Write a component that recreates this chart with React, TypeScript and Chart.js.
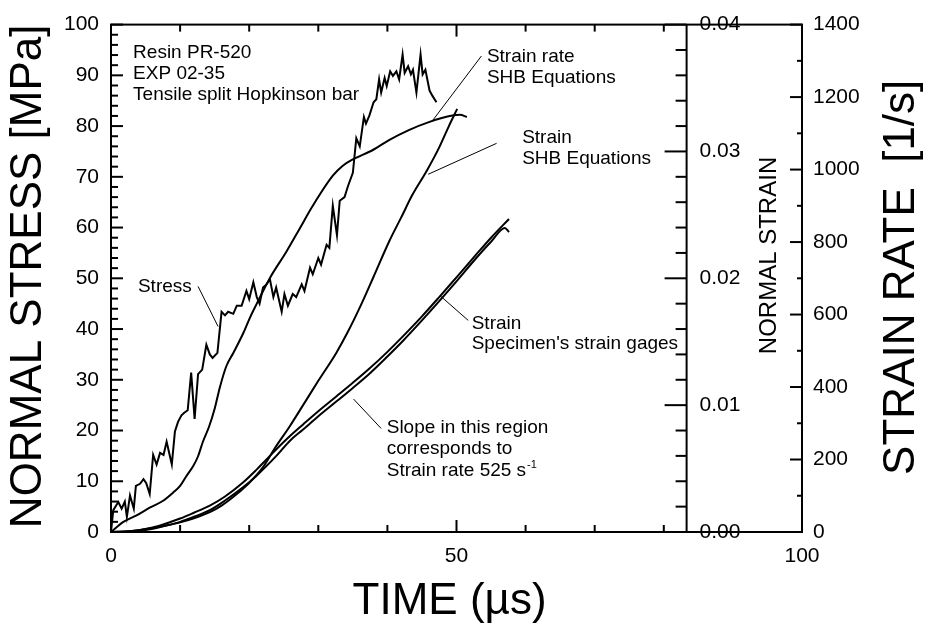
import React, { useEffect, useRef } from "react";
import { Chart, registerables } from "chart.js";

Chart.register(...registerables);

const FONT = "'Liberation Sans', Arial, Helvetica, sans-serif";

// ---- Stress (jagged) : time [µs], stress [MPa]
const stressTime = [
  0, 0.33, 1.06, 1.54, 2.0, 2.3, 2.75, 3.3, 3.6, 4.2, 4.7, 5.1, 5.6, 6.1, 6.6, 7.1, 7.6, 8.05, 8.8, 9.25,
  9.7, 10.2, 10.6, 11.1, 11.6, 12.1, 12.6, 13.2, 13.8, 14.3, 14.7, 15.4, 16.0, 16.5, 16.95, 17.7, 18.2, 18.9,
  19.6, 20.0, 20.6, 21.1, 21.5, 22.0, 22.5, 23.0, 23.5, 23.9, 24.7, 25.1, 25.6, 26.3, 26.8, 27.6, 28.0, 28.8,
  29.2, 30.0, 30.4, 31.2, 31.6, 32.1, 32.7, 33.1, 33.8, 34.3, 35.0, 35.5, 36.0, 36.6, 36.9, 37.4, 38.0, 38.4,
  38.8, 39.1, 39.6, 39.9, 40.4, 40.8, 41.3, 41.7, 42.2, 42.5, 43.0, 43.4, 43.7, 44.2, 44.8, 45.1, 45.5, 46.1,
  46.5, 47.1,
];
const stressValues = [
  0, 4.3, 5.9, 4.6, 6.0, 3.0, 7.2, 4.6, 9.1, 9.5, 10.4, 9.6, 7.5, 15.2, 13.3, 15.6, 15.2, 17.8, 13.3, 19.8,
  21.7, 23.0, 23.5, 24.0, 31.4, 22.3, 31.1, 32.0, 36.9, 35.0, 34.3, 35.3, 43.4, 42.7, 43.4, 43.0, 44.6, 44.6,
  47.5, 45.9, 49.2, 46.3, 45.0, 48.2, 48.8, 49.8, 46.3, 48.2, 43.4, 46.9, 44.6, 46.9, 46.3, 48.8, 47.5, 52.1,
  50.8, 54.0, 52.7, 56.6, 56.0, 64.3, 58.5, 65.3, 66.0, 68.2, 70.8, 77.6, 76.0, 81.8, 80.5, 82.1, 84.7, 85.3,
  89.2, 86.6, 89.5, 87.9, 90.8, 89.9, 90.8, 89.2, 94.1, 90.5, 91.8, 90.2, 91.1, 86.6, 94.1, 90.2, 91.1, 87.0,
  86.0, 84.7,
];

// ---- Strain rate, SHB equations : time [µs], rate [1/s]
const rateTime = [
  0, 1.8, 3.7, 5.6, 7.6, 9.0, 10.0, 10.9, 11.9, 12.6, 13.3, 14.2, 15.0, 15.75, 16.7, 17.7, 19.1, 20.1, 21.1,
  23.0, 25.4, 27.3, 29.2, 32.1, 33.5, 35.0, 37.9, 40.3, 43.1, 46.0, 49.4, 50.5, 51.5,
];
const rateValues = [
  0, 28, 46, 67, 87, 109, 127, 154, 182, 209, 249, 291, 340, 399, 458, 494, 547, 591, 630,
  701, 774, 837, 900, 983, 1010, 1028, 1054, 1082, 1109, 1131, 1149, 1151, 1145,
];

// ---- Strain, SHB equations : time [µs], strain
const shbStrainTime = [
  0, 2, 4, 6, 8, 10, 12, 14.3, 16, 17.5, 19.1, 20.5, 22.0, 23.7, 25.9, 27.8, 30, 32.6, 34.3, 36.2, 38,
  40.3, 42, 43.6, 45.7, 47.5, 48.9, 50.1,
];
const shbStrainValues = [
  0, 0.00004, 0.00014, 0.00032, 0.00052, 0.00076, 0.00108, 0.00156, 0.00208, 0.00268, 0.0034, 0.00416,
  0.00512, 0.0066, 0.00836, 0.01, 0.01192, 0.01412, 0.0158, 0.01792, 0.02012, 0.02296, 0.0248, 0.02656,
  0.02848, 0.03032, 0.032, 0.03336,
];

// ---- Strain, specimen's strain gages (two gages) : time [µs], strain
const gageATime = [
  0, 3, 5, 7, 10, 12, 14.3, 16.5, 19.1, 21, 22.5, 24, 25.9, 27.8, 30, 32.6, 35, 37.4, 40, 42.2, 45, 47.5,
  50, 52.8, 55, 57.6,
];
const gageAValues = [
  0, 0.00008, 0.00024, 0.0005, 0.00106, 0.00152, 0.00208, 0.0028, 0.0039, 0.00488, 0.00572, 0.00656,
  0.00756, 0.00848, 0.00952, 0.01068, 0.01176, 0.01288, 0.0142, 0.0154, 0.017, 0.01852, 0.02008, 0.02184,
  0.0232, 0.02468,
];
const gageBTime = [
  0, 3, 5, 7, 10, 12, 14.3, 16.5, 19.1, 21, 22.5, 24, 25.9, 27.8, 30, 32.6, 35, 37.4, 40, 42.2, 45, 47.5,
  50, 52.8, 55, 57.0, 57.6,
];
const gageBValues = [
  0, 0.00004, 0.00016, 0.00038, 0.0008, 0.0012, 0.00172, 0.00248, 0.00352, 0.0044, 0.0052, 0.00604,
  0.0072, 0.00808, 0.00912, 0.01028, 0.01136, 0.01248, 0.01384, 0.01504, 0.01668, 0.0182, 0.01976,
  0.02156, 0.02288, 0.02396, 0.02364,
];

// ---- axes
const timeRange = [0, 100];
const stressRange = [0, 100];
const strainRange = [0, 0.04];
const rateRange = [0, 1400];
const strainAxisTime = 83.3; // where the NORMAL STRAIN axis crosses the time axis
const strainTickLabels = ["0.00", "0.01", "0.02", "0.03", "0.04"];

const pts = (xs: number[], ys: number[]) => xs.map((x, i) => ({ x, y: ys[i] }));

const framePlugin = {
  id: "frame",
  afterDraw(chart: any) {
    const { ctx, chartArea } = chart;
    const { left, right, top, bottom } = chartArea;
    const x = chart.scales.x;
    const y = chart.scales.y;
    const strain = chart.scales.strain;
    const rate = chart.scales.rate;
    const X = (v: number) => x.getPixelForValue(v);
    const Y = (v: number) => y.getPixelForValue(v);
    const line = (x1: number, y1: number, x2: number, y2: number) => {
      ctx.beginPath();
      ctx.moveTo(x1, y1);
      ctx.lineTo(x2, y2);
      ctx.stroke();
    };
    ctx.save();
    ctx.strokeStyle = "#000";
    ctx.fillStyle = "#000";
    ctx.lineWidth = 2;
    ctx.lineCap = "butt";
    // frame
    ctx.strokeRect(left, top, right - left, bottom - top);
    const sx = X(strainAxisTime);
    line(sx, top, sx, bottom);

    // left stress ticks (every 2, major every 10)
    for (let i = 0; i <= 50; i++) {
      const v = i * 2;
      const py = Y(v);
      const len = v % 10 === 0 ? 12 : 7;
      line(left, py, left + len, py);
    }
    // time ticks on top and bottom, 10..80
    for (let t = 10; t <= 80; t += 10) {
      const px = X(t);
      const len = t === 50 ? 12 : 7;
      line(px, bottom, px, bottom - len);
      line(px, top, px, top + len);
    }
    // strain axis ticks
    for (let i = 0; i <= 20; i++) {
      const v = i * 0.002;
      const py = strain.getPixelForValue(v);
      const len = i % 5 === 0 ? 22 : 11;
      line(sx - len, py, sx, py);
    }
    // rate axis ticks
    for (let v = 0; v <= 1400; v += 100) {
      const py = rate.getPixelForValue(v);
      const len = v % 200 === 0 ? 12 : 5;
      line(right - len, py, right, py);
    }
    // strain labels
    ctx.font = `21px ${FONT}`;
    ctx.textAlign = "left";
    ctx.textBaseline = "middle";
    strainTickLabels.forEach((lab, i) => {
      ctx.fillText(lab, sx + 13, strain.getPixelForValue(i * 0.01));
    });

    // axis titles
    const vText = (txt: string, cx: number, cy: number, size: number) => {
      ctx.save();
      ctx.translate(cx, cy);
      ctx.rotate(-Math.PI / 2);
      ctx.font = `${size}px ${FONT}`;
      ctx.textAlign = "center";
      ctx.textBaseline = "middle";
      ctx.fillText(txt, 0, 0);
      ctx.restore();
    };
    const midY = (top + bottom) / 2;
    vText("NORMAL STRESS [MPa]", 29, midY - 2, 44);
    vText("STRAIN RATE  [1/s]", 902, midY - 1, 44);
    vText("NORMAL STRAIN", 769, strain.getPixelForValue(0.0218), 24);
    ctx.font = `44px ${FONT}`;
    ctx.textAlign = "center";
    ctx.textBaseline = "alphabetic";
    ctx.fillText("TIME (µs)", X(49), 614);

    // annotations (positions in time / stress units)
    ctx.font = `19px ${FONT}`;
    ctx.textAlign = "left";
    const note = (txt: string, t: number, s: number) => ctx.fillText(txt, X(t), Y(s));
    note("Resin PR-520", 3.2, 93.4);
    note("EXP 02-35", 3.2, 89.2);
    note("Tensile split Hopkinson bar", 3.2, 85.1);
    note("Stress", 3.9, 47.3);
    note("Strain rate", 54.4, 92.6);
    note("SHB Equations", 54.4, 88.4);
    note("Strain", 59.5, 76.7);
    note("SHB Equations", 59.5, 72.5);
    note("Strain", 52.2, 40.1);
    note("Specimen's strain gages", 52.2, 36.0);
    note("Slope in this region", 39.9, 19.6);
    note("corresponds to", 39.9, 15.3);
    const base = "Strain rate 525 s";
    note(base, 39.9, 11.0);
    const w = ctx.measureText(base).width;
    ctx.font = `11px ${FONT}`;
    ctx.fillText("-1", X(39.9) + w + 1, Y(11.0) - 8);

    // leader lines
    ctx.lineWidth = 1;
    const lead = (t1: number, s1: number, t2: number, s2: number) => line(X(t1), Y(s1), X(t2), Y(s2));
    lead(12.6, 48.4, 15.5, 40.5);
    lead(53.6, 93.8, 46.6, 81.2);
    lead(55.8, 76.6, 45.9, 70.5);
    lead(51.7, 41.7, 47.6, 46.6);
    lead(39.1, 20.4, 35.1, 26.2);
    ctx.restore();
  },
};

export default function App() {
  const ref = useRef<HTMLCanvasElement>(null);
  useEffect(() => {
    if (!ref.current) return;
    Chart.defaults.font.family = FONT;
    Chart.defaults.color = "#000";
    const ds = (data: any[], axis: string, smooth: boolean) => ({
      data,
      yAxisID: axis,
      borderColor: "#000",
      borderWidth: 2,
      pointRadius: 0,
      fill: false,
      tension: smooth ? 0.4 : 0,
      cubicInterpolationMode: smooth ? "monotone" : "default",
    });
    const chart = new Chart(ref.current, {
      type: "line",
      data: {
        datasets: [
          ds(pts(stressTime, stressValues), "y", false),
          ds(pts(rateTime, rateValues), "rate", true),
          ds(pts(shbStrainTime, shbStrainValues), "strain", true),
          ds(pts(gageATime, gageAValues), "strain", true),
          ds(pts(gageBTime, gageBValues), "strain", true),
        ],
      } as any,
      options: {
        animation: false,
        responsive: false,
        devicePixelRatio: 1,
        layout: { padding: { top: 16, left: 0, right: 0, bottom: 0 } },
        plugins: { legend: { display: false }, tooltip: { enabled: false } },
        scales: {
          x: {
            type: "linear",
            position: "bottom",
            min: timeRange[0],
            max: timeRange[1],
            grid: { display: false, drawTicks: false },
            border: { display: false },
            ticks: {
              stepSize: 50,
              font: { size: 21 },
              padding: 12,
              color: "#000",
              maxRotation: 0,
              callback: (v: any) => String(v),
            },
            afterFit: (s: any) => {
              s.height = 95;
            },
          },
          y: {
            type: "linear",
            position: "left",
            min: stressRange[0],
            max: stressRange[1],
            grid: { display: false, drawTicks: false },
            border: { display: false },
            ticks: { stepSize: 10, font: { size: 21 }, padding: 12, color: "#000", callback: (v: any) => String(v) },
            afterFit: (s: any) => {
              s.width = 111;
            },
          },
          strain: {
            type: "linear",
            position: "right",
            display: false,
            min: strainRange[0],
            max: strainRange[1],
          },
          rate: {
            type: "linear",
            position: "right",
            min: rateRange[0],
            max: rateRange[1],
            grid: { display: false, drawTicks: false },
            border: { display: false },
            ticks: { stepSize: 200, font: { size: 21 }, padding: 11, color: "#000", callback: (v: any) => String(v) },
            afterFit: (s: any) => {
              s.width = 128;
            },
          },
        },
      } as any,
      plugins: [framePlugin],
    });
    return () => chart.destroy();
  }, []);
  return (
    <div style={{ position: "absolute", left: 0, top: 0, width: 930, height: 627, background: "#fff" }}>
      <canvas ref={ref} width={930} height={627} style={{ display: "block", width: 930, height: 627 }} />
    </div>
  );
}
